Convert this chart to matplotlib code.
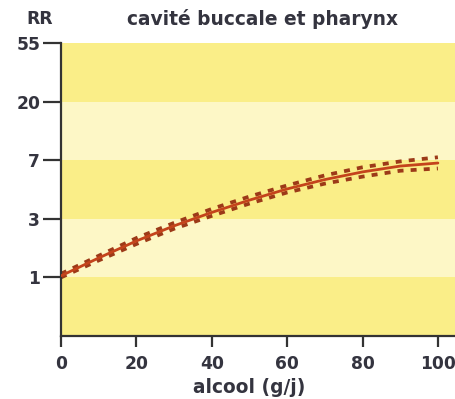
import numpy as np
import matplotlib
matplotlib.use("Agg")
import matplotlib.pyplot as plt

# Alcohol intake (g/day) and relative risk with its confidence bounds
alcool = [0, 10, 20, 30, 40, 50, 60, 70, 80, 90, 100]
rr = [1.03, 1.44, 1.98, 2.63, 3.29, 3.93, 4.62, 5.29, 5.91, 6.43, 6.72]
rr_haut = [1.07, 1.50, 2.09, 2.78, 3.46, 4.14, 4.86, 5.62, 6.32, 6.88, 7.38]
rr_bas = [1.00, 1.375, 1.87, 2.49, 3.13, 3.74, 4.39, 4.99, 5.52, 6.01, 6.21]

y_ticks = [1, 3, 7, 20, 55]
x_ticks = [0, 20, 40, 60, 80, 100]

# Evenly spaced RR graduations (piecewise log axis)
anchors_rr = np.array([1 / 81, 1 / 27, 1 / 9, 1 / 3, 1, 3, 7, 20, 55, 150, 400, 1100])
anchors_pos = np.arange(len(anchors_rr), dtype=float) - 4


def fwd(v):
    v = np.clip(np.asarray(v, dtype=float), 1e-9, None)
    return np.interp(np.log(v), np.log(anchors_rr), anchors_pos)


def inv(p):
    p = np.asarray(p, dtype=float)
    return np.exp(np.interp(p, anchors_pos, np.log(anchors_rr)))


DARK = "#FAEE88"
LIGHT = "#FDF7C6"
TXT = "#34343f"
FS = 12.3
FS_TITLE = 13.4

plt.rcParams["font.family"] = ["DejaVu Sans"]

fig = plt.figure(figsize=(4.56, 3.99), dpi=100)
ax = fig.add_axes([61 / 456, 63 / 399, 395 / 456, 293 / 399])
ax.set_yscale("function", functions=(fwd, inv))
ax.set_xlim(0, 104.8)
ax.set_ylim(1 / 3, 55)

bands = [1 / 3] + y_ticks
for i in range(len(bands) - 1):
    ax.axhspan(bands[i], bands[i + 1], color=DARK if i % 2 == 0 else LIGHT,
               lw=0, zorder=0)

dot_style = dict(color="#9C3A18", lw=2.7, dashes=(1.6, 1.9), zorder=2,
                 solid_capstyle="butt", dash_capstyle="butt")
ax.plot(alcool, rr_haut, **dot_style)
ax.plot(alcool, rr_bas, **dot_style)
ax.plot(alcool, rr, color="#C4431B", lw=2.0, zorder=3, solid_capstyle="round")

for side in ("top", "right"):
    ax.spines[side].set_visible(False)
for side in ("left", "bottom"):
    ax.spines[side].set_color("#333333")
    ax.spines[side].set_linewidth(1.6)

ax.set_yticks(y_ticks)
ax.set_yticklabels([str(t) for t in y_ticks])
ax.yaxis.set_minor_locator(matplotlib.ticker.NullLocator())
ax.set_xticks(x_ticks)
ax.set_xticklabels([str(t) for t in x_ticks])
ax.tick_params(axis="y", length=13, width=1.6, color="#333333", pad=2,
               labelsize=FS, labelcolor=TXT)
ax.tick_params(axis="x", length=8, width=1.6, color="#333333", pad=6,
               labelsize=FS, labelcolor=TXT)
for lab in ax.get_xticklabels() + ax.get_yticklabels():
    lab.set_fontweight("bold")

ax.text(50, -0.177, "alcool (g/j)", transform=ax.get_xaxis_transform(),
        ha="center", va="center", fontsize=FS_TITLE, fontweight="bold", color=TXT)
fig.text(263 / 456, 1 - 19 / 399, "cavité buccale et pharynx", ha="center",
         va="center", fontsize=FS_TITLE, fontweight="bold", color=TXT)
fig.text(40 / 456, 1 - 19 / 399, "RR", ha="center", va="center",
         fontsize=FS, fontweight="bold", color=TXT)

fig.savefig("out.png", dpi=100)
